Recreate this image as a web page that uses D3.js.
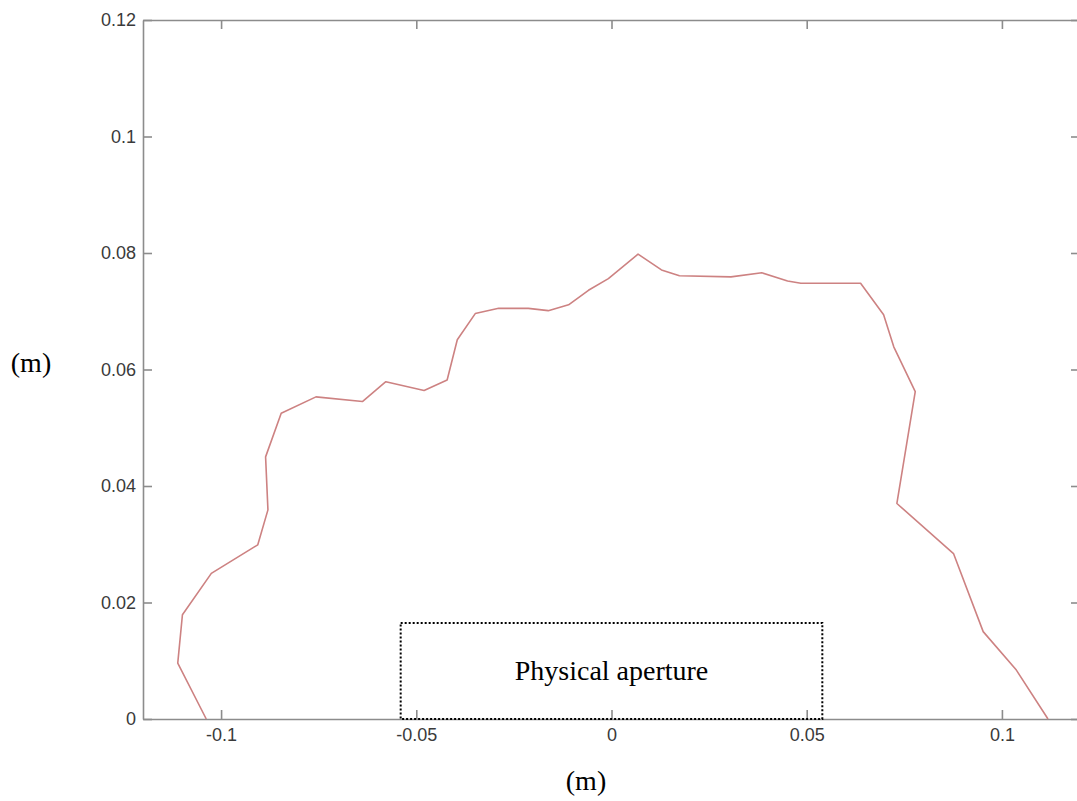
<!DOCTYPE html>
<html>
<head>
<meta charset="utf-8">
<script src="https://cdn.jsdelivr.net/npm/d3@7"></script>
<style>
  html, body { margin: 0; padding: 0; background: #fff; }
  svg { display: block; }
</style>
</head>
<body>
<svg id="chart" width="1077" height="801"></svg>
<script>
// Dynamic aperture boundary (x, y) in metres
const boundaryX = [-0.1038, -0.1111, -0.1099, -0.1025, -0.0906, -0.0880, -0.0886, -0.0846,
  -0.0757, -0.0638, -0.0578, -0.0480, -0.0421, -0.0395, -0.0349, -0.0289, -0.0213, -0.0162,
  -0.0110, -0.0059, -0.0008, 0.0068, 0.0128, 0.0174, 0.0306, 0.0385, 0.0451, 0.0485, 0.0638,
  0.0697, 0.0723, 0.0778, 0.0731, 0.0876, 0.0952, 0.1037, 0.1118];
const boundaryY = [0.0, 0.0096, 0.0179, 0.0250, 0.0299, 0.0359, 0.0450, 0.0525,
  0.0553, 0.0545, 0.0579, 0.0564, 0.0582, 0.0651, 0.0696, 0.0705, 0.0705, 0.0701,
  0.0711, 0.0736, 0.0756, 0.0798, 0.0771, 0.0761, 0.0759, 0.0766, 0.0752, 0.0748, 0.0748,
  0.0694, 0.0639, 0.0562, 0.0370, 0.0284, 0.0150, 0.0084, 0.0];

// Physical aperture rectangle (metres)
const apertureX = [-0.054, 0.054];
const apertureY = [0, 0.0165];
const apertureLabel = "Physical aperture";

// Axes
const xDomain = [-0.12, 0.12];
const yDomain = [0, 0.12];
const xTicks = [-0.1, -0.05, 0, 0.05, 0.1];
const xTickLabels = ["-0.1", "-0.05", "0", "0.05", "0.1"];
const yTicks = [0, 0.02, 0.04, 0.06, 0.08, 0.1, 0.12];
const yTickLabels = ["0", "0.02", "0.04", "0.06", "0.08", "0.1", "0.12"];
const xLabel = "(m)";
const yLabel = "(m)";

const svg = d3.select("#chart");
const plotLeft = 143, plotRight = 1080, plotTop = 20, plotBottom = 719;

const x = d3.scaleLinear().domain(xDomain).range([plotLeft, plotRight]);
const y = d3.scaleLinear().domain(yDomain).range([plotBottom, plotTop]);

const axisColor = "#8c8c8c";
const tickFont = "'Liberation Sans', Arial, Helvetica, sans-serif";
const serif = "'Liberation Serif', 'Times New Roman', serif";
const tickLen = 9;

function styleAxis(g) {
  g.select(".domain").attr("stroke", axisColor).attr("stroke-width", 1.6);
  g.selectAll(".tick line").attr("stroke", axisColor).attr("stroke-width", 1.6);
  g.selectAll(".tick text").attr("fill", "#3a3a3a").attr("font-family", tickFont).attr("font-size", 18);
}

// bottom axis, ticks pointing inward
const xAxis = d3.axisBottom(x).tickValues(xTicks)
  .tickFormat((d, i) => xTickLabels[i]).tickSizeInner(-tickLen).tickSizeOuter(0).tickPadding(9);
svg.append("g").attr("transform", `translate(0,${plotBottom})`).call(xAxis).call(styleAxis);

// top axis, ticks only
const xAxisTop = d3.axisTop(x).tickValues(xTicks).tickFormat("")
  .tickSizeInner(-tickLen).tickSizeOuter(0);
svg.append("g").attr("transform", `translate(0,${plotTop})`).call(xAxisTop).call(styleAxis);

// left axis
const yAxis = d3.axisLeft(y).tickValues(yTicks)
  .tickFormat((d, i) => yTickLabels[i]).tickSizeInner(-tickLen).tickSizeOuter(0).tickPadding(7);
svg.append("g").attr("transform", `translate(${plotLeft},0)`).call(yAxis).call(styleAxis);

// right axis, ticks only
const yAxisRight = d3.axisRight(y).tickValues(yTicks).tickFormat("")
  .tickSizeInner(-tickLen).tickSizeOuter(0);
svg.append("g").attr("transform", `translate(${plotRight},0)`).call(yAxisRight).call(styleAxis);

// Physical aperture box
svg.append("rect")
  .attr("x", x(apertureX[0]))
  .attr("y", y(apertureY[1]))
  .attr("width", x(apertureX[1]) - x(apertureX[0]))
  .attr("height", y(apertureY[0]) - y(apertureY[1]))
  .attr("fill", "none")
  .attr("stroke", "#000")
  .attr("stroke-width", 2)
  .attr("stroke-dasharray", "2,2");

svg.append("text")
  .attr("x", x((apertureX[0] + apertureX[1]) / 2))
  .attr("y", 680)
  .attr("text-anchor", "middle")
  .attr("font-family", serif)
  .attr("font-size", 28)
  .attr("fill", "#000")
  .text(apertureLabel);

// Boundary curve
const pts = boundaryX.map((d, i) => [d, boundaryY[i]]);
svg.append("path")
  .datum(pts)
  .attr("fill", "none")
  .attr("stroke", "#cd8282")
  .attr("stroke-width", 1.6)
  .attr("stroke-linejoin", "round")
  .attr("d", d3.line().x(d => x(d[0])).y(d => y(d[1])));

// Axis titles
svg.append("text")
  .attr("x", 586).attr("y", 790)
  .attr("text-anchor", "middle")
  .attr("font-family", serif).attr("font-size", 28).attr("fill", "#000")
  .text(xLabel);

svg.append("text")
  .attr("x", 31).attr("y", 372)
  .attr("text-anchor", "middle")
  .attr("font-family", serif).attr("font-size", 28).attr("fill", "#000")
  .text(yLabel);
</script>
</body>
</html>
